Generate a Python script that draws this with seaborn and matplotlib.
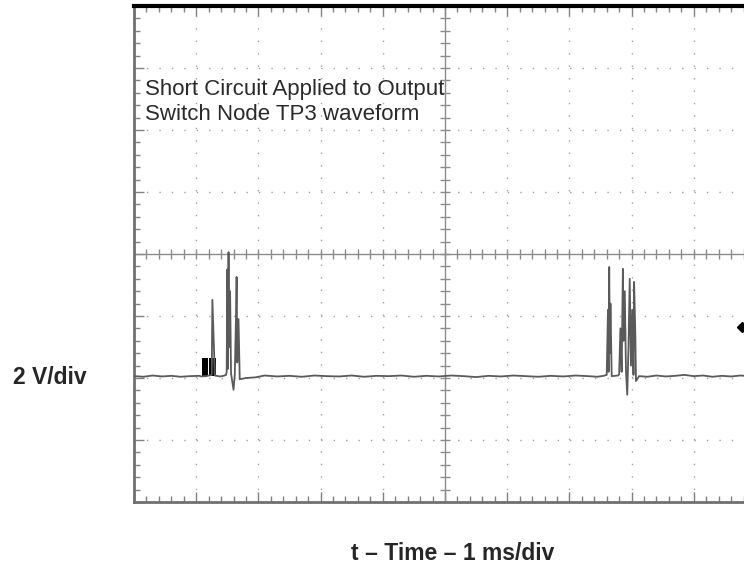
import numpy as np
import matplotlib
matplotlib.use("Agg")
import matplotlib.pyplot as plt
from matplotlib.ticker import MultipleLocator
import seaborn as sns
import pandas as pd

# Scope capture: time in ms (1 ms/div), voltage in V (2 V/div)
t_ms = [0.00, 0.15, 0.30, 0.45, 0.60, 0.75, 0.90, 1.05,
        1.08, 1.16, 1.25, 1.26, 1.30, 1.38, 1.44, 1.48,
        1.49, 1.50, 1.51, 1.52, 1.53, 1.545, 1.56, 1.60, 1.62, 1.64, 1.65, 1.66, 1.68, 1.70,
        1.80, 1.95, 2.10, 2.30, 2.50, 2.70, 2.90, 3.10, 3.30, 3.50, 3.70, 3.90,
        4.10, 4.30, 4.50, 4.70, 4.90, 5.10, 5.30, 5.50, 5.70, 5.90, 6.10, 6.30,
        6.50, 6.70, 6.90, 7.10, 7.30, 7.45, 7.55,
        7.60, 7.62, 7.63, 7.64, 7.65, 7.66, 7.68, 7.78, 7.80, 7.82, 7.84, 7.86, 7.87,
        7.89, 7.91, 7.93, 7.95, 7.97, 7.99, 8.01, 8.03, 8.04, 8.06, 8.07, 8.12,
        8.25, 8.40, 8.55, 8.70, 8.85, 9.00, 9.15, 9.30, 9.45, 9.60, 9.75, 9.90, 10.0]
v_volt = [-3.94, -3.96, -3.92, -3.95, -3.93, -3.96, -3.94, -3.93,
          -3.95, -3.94, -3.90, -1.48, -3.92, -3.95, -3.93, -3.90,
          -3.80, -0.50, -3.70, 0.06, -3.00, -1.20, -3.85, -4.38, -3.90, -2.00, -0.74, -3.50, -2.10, -4.04,
          -4.00, -3.98, -3.92, -3.95, -3.93, -3.96, -3.92, -3.94, -3.95, -3.92, -3.96, -3.93,
          -3.94, -3.92, -3.96, -3.93, -3.95, -3.92, -3.94, -3.97, -3.93, -3.95, -3.92, -3.94,
          -3.96, -3.93, -3.95, -3.92, -3.94, -3.96, -3.93,
          -3.90, -1.80, -3.80, -0.42, -3.20, -1.60, -3.94, -3.92, -3.88, -2.40, -3.80, -0.48, -2.80,
          -1.20, -3.80, -4.54, -3.00, -0.80, -3.60, -1.80, -3.90, -0.90, -2.60, -4.10, -3.94,
          -3.96, -3.92, -3.95, -3.93, -3.90, -3.94, -3.92, -3.96, -3.93, -3.95, -3.92, -3.94, -3.93]

# black block pulses before the first burst
block_t = [[1.09, 1.19], [1.21, 1.32]]
block_top = -3.36
baseline = -3.94

# trigger marker at the right edge
trig_t = 9.77
trig_v = -2.36

note_lines = ["Short Circuit Applied to Output", "Switch Node TP3 waveform"]

df = pd.DataFrame({"t": t_ms, "v": v_volt})

sns.set_style("white")
plt.rcParams["font.family"] = ["Liberation Sans", "DejaVu Sans"]

fig = plt.figure(figsize=(7.44, 5.65), dpi=100)
ax = fig.add_axes([134 / 744, 63 / 565, 622 / 744, 496 / 565])

ax.set_xlim(0, 10)
ax.set_ylim(-8, 8)

# graticule dots
dot = (0, (1.0, 7.96))
for gx in range(1, 10):
    if gx != 5:
        ax.axvline(gx, color="#a0a0a0", lw=1.0, linestyle=dot, zorder=1)
for gy in range(-6, 8, 2):
    if gy != 0:
        ax.axhline(gy, color="#a0a0a0", lw=1.0, linestyle=dot, zorder=1)

# centre cross with small ticks
ax.axvline(5, color="#8c8c8c", lw=1.0, zorder=1)
ax.axhline(0, color="#8c8c8c", lw=1.0, zorder=1)
mx = np.arange(0, 10.01, 0.2)
my = np.arange(-8, 8.01, 0.4)
ax.plot(mx, np.zeros_like(mx), ls="none", marker="|", ms=7, mew=1.0, color="#8c8c8c", zorder=1)
ax.plot(np.full_like(my, 5.0), my, ls="none", marker="_", ms=7, mew=1.0, color="#8c8c8c", zorder=1)

# waveform
for b in block_t:
    ax.fill_between(b, baseline, block_top, color="black", lw=0, zorder=3)
sns.lineplot(data=df, x="t", y="v", sort=False, estimator=None, ax=ax,
             color="#5a5a5a", lw=1.3, zorder=4)
ax.plot([trig_t], [trig_v], marker="D", ms=5, color="black", ls="none", zorder=5)

# frame
ax.xaxis.set_major_locator(MultipleLocator(1))
ax.xaxis.set_minor_locator(MultipleLocator(0.2))
ax.yaxis.set_major_locator(MultipleLocator(2))
ax.yaxis.set_minor_locator(MultipleLocator(0.4))
ax.tick_params(which="both", direction="in", top=True, bottom=True, left=True, right=True,
               labelbottom=False, labelleft=False, color="#808080", width=1.0)
ax.tick_params(which="major", length=7)
ax.tick_params(which="minor", length=4)
for side in ["left", "bottom", "right"]:
    ax.spines[side].set_color("#707070")
    ax.spines[side].set_linewidth(2.0)
ax.spines["top"].set_color("black")
ax.spines["top"].set_linewidth(3.0)
ax.set_xlabel("")
ax.set_ylabel("")

for i, line in enumerate(note_lines):
    ax.text(0.18, 5.3 - 0.8 * i, line, fontsize=16, color="#2a2a2a",
            ha="left", va="center", zorder=6)

fig.text(50 / 744, 1 - 377 / 565, "2 V/div", fontsize=16.5, fontweight="bold",
         ha="center", va="center")
fig.text(453 / 744, 1 - 554 / 565, "t \u2013 Time \u2013 1 ms/div", fontsize=16.5,
         fontweight="bold", ha="center", va="center")

fig.savefig("out.png", dpi=100)
